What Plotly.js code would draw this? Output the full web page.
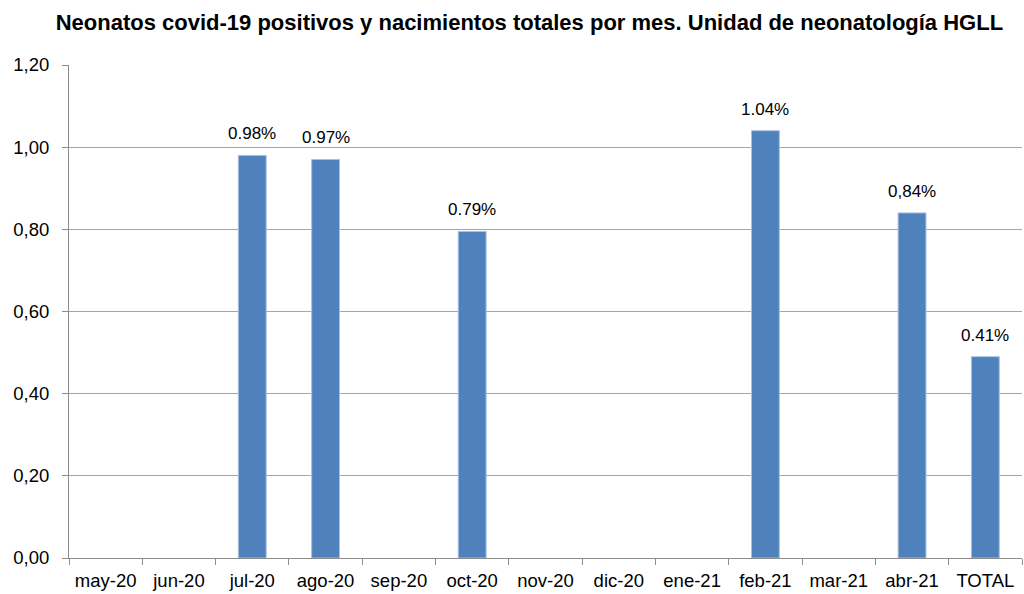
<!DOCTYPE html>
<html><head><meta charset="utf-8">
<script src="https://cdn.plot.ly/plotly-3.0.1.min.js"></script>
<style>body{margin:0;padding:0;background:#fff}#chart{width:1024px;height:594px}</style>
</head><body><div id="chart"></div>
<script>
const categories = ["may-20","jun-20","jul-20","ago-20","sep-20","oct-20","nov-20","dic-20","ene-21","feb-21","mar-21","abr-21","TOTAL"];
const values = [null,null,0.98,0.97,null,0.795,null,null,null,1.04,null,0.84,0.49];
const labels = ["","","0.98%","0.97%","","0.79%","","","","1.04%","","0,84%","0.41%"];
const yTicks = [0,0.2,0.4,0.6,0.8,1.0,1.2];

const trace = {
  type: "bar", x: categories, y: values,
  marker: {color: "#4f81bd", line: {color: "#a9c1e0", width: 1}},
  hoverinfo: "none"
};
const annotations = categories.map((c, i) => values[i] == null ? null : {
  x: c, y: values[i], xref: "x", yref: "y", text: labels[i], showarrow: false,
  yanchor: "bottom", xanchor: "center", yshift: 10,
  font: {family: "Liberation Sans, Arial, sans-serif", size: 17, color: "#000"}
}).filter(a => a);

const layout = {
  width: 1024, height: 594,
  margin: {l: 69, r: 2, t: 65, b: 36},
  separators: ",.",
  paper_bgcolor: "#fff", plot_bgcolor: "#fff",
  bargap: 0.62,
  showlegend: false,
  annotations: annotations,
  title: {text: "<b>Neonatos covid-19 positivos y nacimientos totales por mes. Unidad de neonatología HGLL</b>",
    font: {family: "Liberation Sans, Arial, sans-serif", size: 22, color: "#000"},
    x: 0.517, xanchor: "center", y: 0.963, yanchor: "middle"},
  xaxis: {type: "category", showline: true, linecolor: "#8c8c8c", linewidth: 1,
    ticks: "outside", tickson: "boundaries", ticklen: 6, tickcolor: "#8c8c8c",
    ticklabelstandoff: 6,
    tickfont: {family: "Liberation Sans, Arial, sans-serif", size: 18.5, color: "#000"},
    showgrid: false, fixedrange: true},
  yaxis: {range: [0, 1.2], tickvals: yTicks, tickformat: ".2f",
    showline: true, linecolor: "#8c8c8c", linewidth: 1,
    ticks: "outside", ticklen: 6, tickcolor: "#8c8c8c",
    ticklabelstandoff: 9,
    gridcolor: "#a6a6a6", gridwidth: 1, zeroline: false,
    tickfont: {family: "Liberation Sans, Arial, sans-serif", size: 18.5, color: "#000"},
    fixedrange: true}
};
Plotly.newPlot("chart", [trace], layout, {staticPlot: true});
</script></body></html>
